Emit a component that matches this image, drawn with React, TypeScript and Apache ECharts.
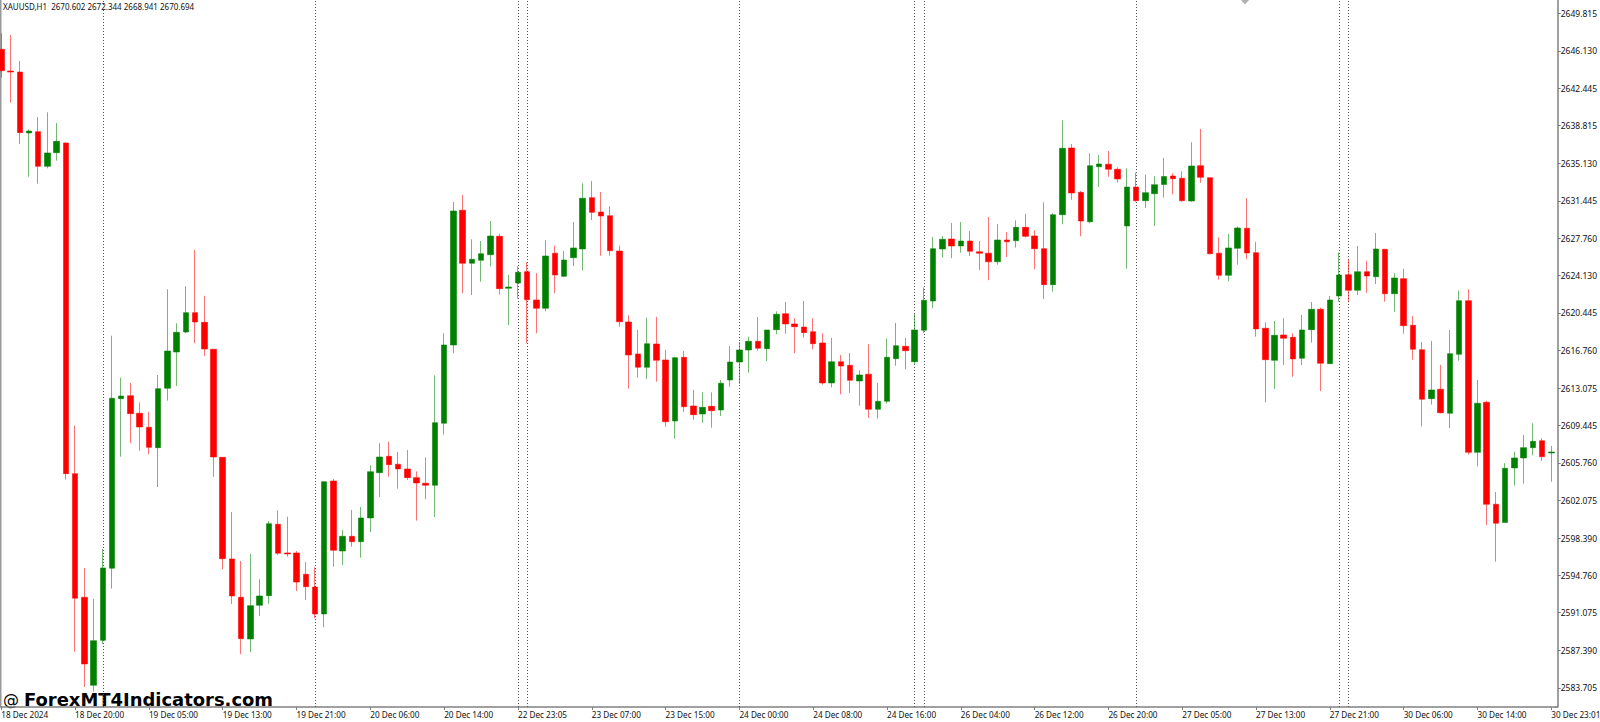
import React, { useEffect, useRef } from "react";
import * as echarts from "echarts";

const opens = [
  2646.29, 2644.16, 2644.06, 2638.09, 2638.21, 2634.82, 2636.16, 2637.11, 2604.70, 2592.58,
  2583.96, 2588.37, 2595.43, 2612.05, 2612.34, 2610.62, 2609.24, 2607.25, 2613.07, 2616.62,
  2618.58, 2620.48, 2619.53, 2616.89, 2606.30, 2596.34, 2592.58, 2588.50, 2591.80, 2592.74,
  2599.74, 2596.93, 2596.93, 2594.84, 2593.59, 2590.95, 2603.98, 2597.12, 2598.56, 2598.03,
  2600.36, 2604.80, 2606.40, 2605.62, 2605.16, 2604.31, 2603.76, 2603.56, 2609.64, 2617.31,
  2630.51, 2625.32, 2625.61, 2626.16, 2627.96, 2622.87, 2623.39, 2624.49, 2621.72, 2620.91,
  2626.30, 2624.04, 2625.87, 2626.72, 2631.75, 2630.34, 2629.98, 2626.52, 2619.56, 2616.43,
  2615.13, 2617.41, 2615.84, 2609.86, 2616.10, 2611.33, 2610.55, 2611.30, 2610.94, 2613.88,
  2615.64, 2616.82, 2617.67, 2616.95, 2618.81, 2620.38, 2619.37, 2619.07, 2618.61, 2617.51,
  2613.59, 2615.67, 2615.32, 2613.78, 2614.44, 2611.01, 2611.79, 2615.97, 2617.18, 2615.67,
  2618.75, 2621.62, 2626.72, 2627.70, 2627.01, 2627.50, 2626.45, 2626.30, 2625.47, 2627.60,
  2627.53, 2628.84, 2627.99, 2626.75, 2623.22, 2630.08, 2636.62, 2632.27, 2629.39, 2634.78,
  2635.02, 2634.53, 2628.97, 2632.79, 2631.45, 2632.14, 2633.04, 2633.87, 2633.65, 2631.42,
  2634.88, 2633.71, 2626.30, 2624.14, 2626.79, 2628.75, 2626.36, 2618.95, 2615.81, 2618.29,
  2618.06, 2616.01, 2618.81, 2620.81, 2615.48, 2622.11, 2624.20, 2622.67, 2624.49, 2624.00,
  2626.69, 2622.34, 2623.81, 2619.24, 2616.85, 2612.05, 2612.97, 2610.62, 2616.40, 2621.65,
  2606.79, 2611.69, 2601.70, 2599.90, 2605.26, 2606.24, 2607.25, 2607.93, 2606.73,
];

const closes = [
  2644.19, 2644.06, 2638.12, 2638.28, 2634.82, 2636.13, 2637.27, 2604.70, 2592.49, 2586.05,
  2588.33, 2595.46, 2612.09, 2612.31, 2610.58, 2609.27, 2607.28, 2613.03, 2616.72, 2618.55,
  2620.48, 2619.56, 2616.92, 2606.33, 2596.37, 2592.71, 2588.53, 2591.76, 2592.71, 2599.80,
  2596.90, 2596.83, 2594.08, 2593.62, 2590.95, 2603.91, 2597.19, 2598.56, 2598.03, 2600.36,
  2604.89, 2606.33, 2605.58, 2605.16, 2604.31, 2603.79, 2603.56, 2609.70, 2617.31, 2630.44,
  2625.32, 2625.71, 2626.26, 2627.99, 2622.83, 2622.99, 2624.43, 2621.75, 2620.91, 2626.03,
  2624.17, 2625.64, 2626.82, 2631.69, 2630.31, 2629.95, 2626.55, 2619.59, 2616.33, 2615.13,
  2617.44, 2615.81, 2609.79, 2616.07, 2611.26, 2610.48, 2611.20, 2610.87, 2613.56, 2615.64,
  2616.82, 2617.67, 2616.99, 2618.78, 2620.32, 2619.37, 2619.10, 2618.52, 2617.44, 2613.59,
  2615.67, 2615.25, 2613.85, 2614.37, 2611.01, 2611.79, 2616.10, 2617.24, 2616.75, 2618.78,
  2621.69, 2626.75, 2627.67, 2627.01, 2627.50, 2626.49, 2626.30, 2625.47, 2627.60, 2627.43,
  2628.84, 2627.96, 2626.75, 2623.22, 2630.08, 2636.59, 2632.21, 2629.46, 2634.88, 2635.05,
  2634.53, 2633.58, 2632.79, 2631.45, 2632.24, 2633.02, 2633.82, 2633.61, 2631.45, 2634.85,
  2633.74, 2626.26, 2624.14, 2626.82, 2628.78, 2626.33, 2618.88, 2615.87, 2618.26, 2617.97,
  2615.94, 2618.78, 2620.81, 2615.52, 2621.72, 2624.17, 2622.67, 2624.49, 2624.07, 2626.72,
  2622.34, 2623.88, 2619.20, 2616.89, 2611.99, 2612.90, 2610.68, 2616.46, 2621.65, 2606.79,
  2611.60, 2601.70, 2599.84, 2605.23, 2606.24, 2607.25, 2607.87, 2606.36, 2606.82,
];

const highs = [
  2647.86, 2647.69, 2645.14, 2638.45, 2639.65, 2640.11, 2639.07, 2637.15, 2609.40, 2595.46,
  2592.42, 2597.32, 2618.22, 2614.11, 2613.59, 2611.69, 2610.77, 2614.37, 2622.77, 2619.44,
  2623.06, 2626.62, 2622.14, 2616.92, 2606.33, 2600.94, 2596.14, 2596.83, 2594.35, 2600.06,
  2601.11, 2600.48, 2597.12, 2596.04, 2595.52, 2603.95, 2604.18, 2599.18, 2601.14, 2601.43,
  2605.52, 2607.68, 2607.83, 2606.82, 2607.02, 2604.93, 2606.30, 2614.34, 2618.46, 2631.32,
  2632.01, 2627.67, 2627.50, 2629.46, 2628.22, 2624.17, 2625.02, 2625.41, 2624.34, 2627.57,
  2627.04, 2626.52, 2629.36, 2633.16, 2633.38, 2632.30, 2630.90, 2627.04, 2620.22, 2618.78,
  2619.99, 2620.05, 2616.82, 2616.16, 2616.72, 2612.90, 2612.67, 2612.67, 2613.88, 2617.21,
  2617.60, 2618.12, 2620.05, 2618.78, 2620.61, 2621.52, 2619.93, 2621.62, 2619.93, 2618.46,
  2618.00, 2616.33, 2616.53, 2614.83, 2617.38, 2613.59, 2617.93, 2619.47, 2618.00, 2620.35,
  2622.96, 2627.89, 2627.99, 2629.27, 2629.36, 2628.48, 2627.50, 2629.85, 2629.17, 2628.38,
  2629.53, 2630.15, 2628.55, 2631.29, 2630.22, 2639.33, 2637.01, 2632.40, 2636.10, 2635.93,
  2636.32, 2634.72, 2634.63, 2634.20, 2634.00, 2633.84, 2635.64, 2634.14, 2634.33, 2637.17,
  2638.48, 2633.72, 2627.86, 2628.19, 2628.94, 2631.69, 2627.43, 2619.53, 2619.66, 2619.93,
  2618.46, 2620.25, 2621.52, 2620.97, 2622.11, 2626.39, 2625.71, 2627.01, 2625.57, 2628.29,
  2626.72, 2624.34, 2624.79, 2620.15, 2617.60, 2617.70, 2615.35, 2618.78, 2622.63, 2622.77,
  2613.88, 2611.85, 2602.90, 2605.72, 2606.85, 2608.49, 2609.64, 2608.17, 2607.41,
];

const lows = [
  2643.51, 2641.06, 2637.01, 2633.80, 2633.12, 2634.63, 2635.37, 2604.11, 2587.25, 2583.79,
  2583.33, 2588.01, 2593.43, 2606.36, 2607.68, 2606.95, 2606.60, 2603.39, 2611.85, 2613.29,
  2618.46, 2617.48, 2616.23, 2604.40, 2595.33, 2591.93, 2587.00, 2587.22, 2590.75, 2591.96,
  2596.73, 2596.56, 2593.20, 2592.32, 2590.53, 2589.64, 2595.58, 2595.75, 2597.54, 2596.47,
  2598.98, 2602.41, 2604.40, 2603.23, 2604.08, 2600.09, 2602.19, 2600.45, 2608.52, 2616.50,
  2622.38, 2622.21, 2623.51, 2625.02, 2622.24, 2619.27, 2621.85, 2617.48, 2618.46, 2620.61,
  2622.38, 2623.94, 2625.05, 2624.63, 2629.56, 2626.06, 2626.06, 2619.10, 2613.03, 2614.11,
  2613.98, 2613.71, 2609.30, 2608.13, 2610.74, 2609.99, 2609.67, 2609.21, 2610.35, 2613.22,
  2613.49, 2614.60, 2616.75, 2615.74, 2618.36, 2618.39, 2616.50, 2618.03, 2616.89, 2613.42,
  2613.16, 2612.48, 2612.61, 2611.36, 2610.16, 2610.09, 2611.56, 2615.28, 2614.93, 2615.42,
  2618.49, 2620.91, 2625.87, 2625.81, 2626.36, 2626.03, 2624.66, 2623.65, 2625.18, 2625.93,
  2626.85, 2627.83, 2624.73, 2621.82, 2622.53, 2629.14, 2631.55, 2627.96, 2629.27, 2632.79,
  2633.80, 2633.22, 2624.79, 2631.35, 2630.74, 2628.97, 2631.75, 2632.08, 2631.35, 2631.35,
  2633.22, 2626.16, 2623.71, 2623.55, 2625.18, 2625.71, 2618.12, 2611.69, 2613.00, 2615.35,
  2614.20, 2615.35, 2617.54, 2612.80, 2615.45, 2621.55, 2621.55, 2622.21, 2622.44, 2623.29,
  2621.55, 2620.57, 2618.42, 2615.87, 2609.34, 2611.46, 2610.58, 2609.15, 2615.77, 2606.56,
  2605.42, 2599.67, 2596.07, 2599.90, 2603.52, 2603.72, 2606.50, 2605.94, 2603.91,
];

// one label every 8 bars
const tickLabels = [
  "18 Dec 2024", "18 Dec 20:00", "19 Dec 05:00", "19 Dec 13:00", "19 Dec 21:00", "20 Dec 06:00",
  "20 Dec 14:00", "22 Dec 23:05", "23 Dec 07:00", "23 Dec 15:00", "24 Dec 00:00", "24 Dec 08:00",
  "24 Dec 16:00", "26 Dec 04:00", "26 Dec 12:00", "26 Dec 20:00", "27 Dec 05:00", "27 Dec 13:00",
  "27 Dec 21:00", "30 Dec 06:00", "30 Dec 14:00", "30 Dec 23:01",
];

const priceTicks = [
  2649.815, 2646.13, 2642.445, 2638.815, 2635.13, 2631.445, 2627.76, 2624.13, 2620.445, 2616.76,
  2613.075, 2609.445, 2605.76, 2602.075, 2598.39, 2594.76, 2591.075, 2587.39, 2583.705,
];

// bars that carry a dotted period separator
const separators = [11, 34, 56, 57, 80, 99, 100, 123, 145, 146];

const categories = opens.map((_, i) => (i % 8 === 0 ? tickLabels[i / 8] : ""));
const candles = opens.map((o, i) => [o, closes[i], lows[i], highs[i]]);

const LABEL_FONT = "Noto Sans";

export default function App() {
  const ref = useRef<HTMLDivElement>(null);

  useEffect(() => {
    if (!ref.current) return;
    const chart = echarts.init(ref.current, undefined, { renderer: "svg" });
    chart.setOption({
      animation: false,
      backgroundColor: "#ffffff",
      grid: { left: -3.31, right: 44.1, top: 0, bottom: 15, outerBoundsMode: "none" },
      xAxis: {
        type: "category",
        data: categories,
        axisLine: { lineStyle: { color: "#808080", width: 1.5 } },
        axisTick: { show: true, alignWithLabel: true, interval: 7, length: 3, lineStyle: { color: "#808080" } },
        axisLabel: {
          interval: 7,
          align: "left",
          margin: 3,
          color: "#111111",
          fontFamily: LABEL_FONT,
          fontSize: 8.2,
          hideOverlap: false,
        },
        splitLine: { show: false },
      },
      yAxis: {
        type: "value",
        position: "right",
        offset: 1.8,
        min: 2581.83,
        max: 2651.12,
        axisLine: { show: true, lineStyle: { color: "#808080", width: 1.5 } },
        axisTick: { show: true, length: 3, customValues: priceTicks, lineStyle: { color: "#808080" } },
        axisLabel: {
          customValues: priceTicks,
          margin: 3,
          color: "#111111",
          fontFamily: LABEL_FONT,
          fontSize: 8.5,
          formatter: (v: number) => v.toFixed(3),
        },
        splitLine: { show: false },
      },
      series: [
        {
          type: "candlestick",
          data: candles,
          barWidth: 6,
          clip: false,
          itemStyle: {
            color: "#008000",
            color0: "#ff0000",
            borderColor: "rgba(0,128,0,0.55)",
            borderColor0: "rgba(255,0,0,0.55)",
            borderWidth: 1,
          },
          markLine: {
            silent: true,
            symbol: "none",
            z: 1,
            label: { show: false },
            lineStyle: { type: [1, 2], color: "#555555", width: 1 },
            data: separators.map((s) => ({ xAxis: s })),
          },
        },
      ],
      graphic: [
        { type: "rect", shape: { x: 0, y: 0, width: 1.5, height: 707 }, style: { fill: "#999999" } },
        { type: "line", shape: { x1: 1555, y1: 707, x2: 1558, y2: 707 }, style: { stroke: "#808080", lineWidth: 1.5 } },
        { type: "polygon", shape: { points: [[1241, 0], [1249, 0], [1245, 4.5]] }, style: { fill: "#b0b0b0" } },
        {
          type: "text",
          x: 3,
          y: 6,
          style: {
            text: "XAUUSD,H1  2670.602 2672.344 2668.941 2670.694",
            fill: "#111111",
            font: `8px "${LABEL_FONT}"`,
            textVerticalAlign: "middle",
          },
        },
        {
          type: "text",
          x: 3,
          y: 699,
          style: { text: "@", fill: "#000000", font: '16px "DejaVu Sans"', textVerticalAlign: "middle" },
        },
        {
          type: "text",
          x: 24,
          y: 699,
          style: {
            text: "ForexMT4Indicators.com",
            fill: "#000000",
            font: 'bold 17.95px "DejaVu Sans"',
            textVerticalAlign: "middle",
          },
        },
      ],
    });
    return () => chart.dispose();
  }, []);

  return <div ref={ref} style={{ position: "absolute", left: 0, top: 0, width: 1600, height: 722 }} />;
}
